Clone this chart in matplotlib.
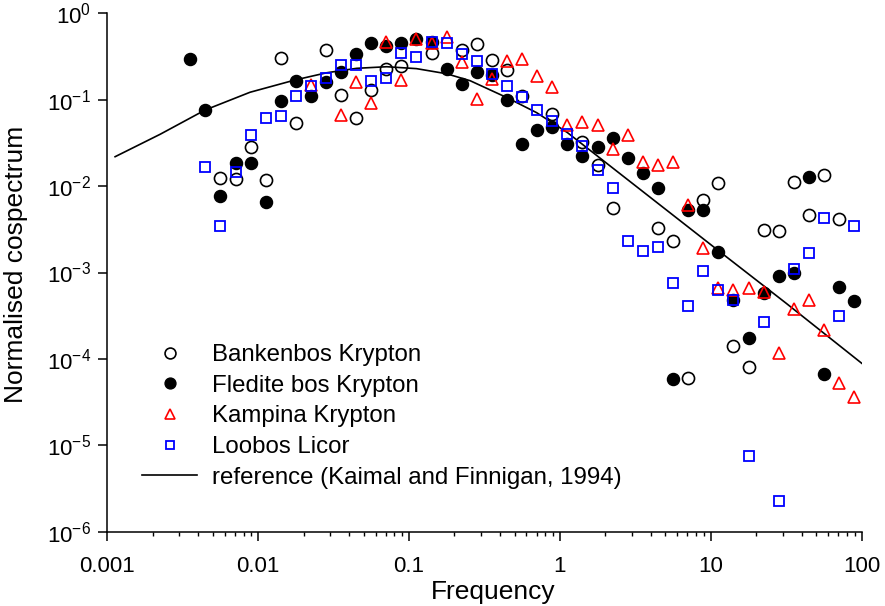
import numpy as np
import matplotlib.pyplot as plt
from matplotlib.ticker import LogLocator, NullLocator, FixedLocator, FuncFormatter

plt.rcParams['font.family'] = ['Liberation Sans', 'DejaVu Sans']
plt.rcParams['mathtext.fontset'] = 'custom'
plt.rcParams['mathtext.rm'] = 'Liberation Sans'
plt.rcParams['mathtext.it'] = 'Liberation Sans:italic'
plt.rcParams['mathtext.bf'] = 'Liberation Sans:bold'

nan = np.nan

# frequencies of the binned spectra (same for all sites)
freq = [0.00355, 0.00447, 0.00562, 0.00708, 0.00891, 0.0112, 0.0141, 0.0178, 0.0224, 0.0282,
        0.0355, 0.0447, 0.0562, 0.0708, 0.0891, 0.112, 0.141, 0.178, 0.224, 0.282,
        0.355, 0.447, 0.562, 0.708, 0.891, 1.12, 1.41, 1.78, 2.24, 2.82,
        3.55, 4.47, 5.62, 7.08, 8.91, 11.2, 14.1, 17.8, 22.4, 28.2,
        35.5, 44.7, 56.2, 70.8, 89.1]

bankenbos = [nan, nan, 0.0123, 0.0121, 0.0286, 0.0118, 0.306, 0.0542, nan, 0.376,
             0.113, 0.0622, 0.128, 0.228, 0.244, nan, 0.344, nan, 0.380, 0.438,
             0.288, 0.221, 0.109, nan, 0.0683, nan, 0.0320, 0.0175, 0.00553, nan,
             nan, 0.00325, 0.00232, 6.05e-5, 0.00690, 0.0108, 1.42e-4, 8.13e-5, 0.00310, 0.00302,
             0.0113, 0.00463, 0.0134, 0.00416, nan]

fledite = [0.294, 0.0760, 0.00768, 0.0185, 0.0187, 0.00655, 0.0966, 0.164, 0.109, 0.162,
           0.211, 0.341, 0.453, 0.424, 0.453, 0.500, 0.469, 0.228, 0.151, 0.211,
           0.191, 0.0993, 0.0305, 0.0446, 0.0483, 0.0309, 0.0223, 0.0282, 0.0363, 0.0210,
           0.0141, 0.00958, 5.81e-5, 0.00529, 0.00529, 0.00171, 4.81e-4, 1.73e-4, 5.83e-4, 9.10e-4,
           9.95e-4, 0.0129, 6.68e-5, 6.74e-4, 4.62e-4]

kampina = [nan, nan, nan, nan, nan, nan, nan, nan, 0.149, nan,
           0.0665, 0.160, 0.0908, 0.469, 0.170, 0.511, 0.459, 0.536, 0.273, 0.101,
           0.172, 0.284, 0.297, 0.188, 0.141, 0.0510, 0.0547, 0.0510, 0.0267, 0.0390,
           0.0192, 0.0175, 0.0188, 0.00604, 0.00191, 6.56e-4, 6.27e-4, 6.67e-4, 6.00e-4, 1.16e-4,
           3.75e-4, 4.81e-4, 2.16e-4, 5.22e-5, 3.62e-5]

loobos = [nan, 0.0168, 0.00343, 0.0144, 0.0390, 0.0609, 0.0653, 0.110, 0.144, 0.177,
          0.252, 0.255, 0.164, 0.178, 0.344, 0.315, 0.463, 0.453, 0.340, 0.278,
          0.197, 0.144, 0.107, 0.0766, 0.0567, 0.0403, 0.0292, 0.0154, 0.00944, 0.00232,
          0.00177, 0.00196, 7.50e-4, 4.09e-4, 0.00104, 6.27e-4, 4.81e-4, 7.5e-6, 2.70e-4, 2.27e-6,
          0.00109, 0.00167, 0.00424, 3.14e-4, 0.00345]

# reference curve
ref_f = [0.001127, 0.00224, 0.00445, 0.00883, 0.0175, 0.0284, 0.0450, 0.0711, 0.112,
         0.177, 0.254, 0.444, 0.701, 1.12, 11.1, 31.6, 100]
ref_v = [0.0219, 0.0398, 0.0760, 0.122, 0.169, 0.205, 0.231, 0.241, 0.229,
         0.200, 0.166, 0.106, 0.0708, 0.0417, 0.00182, 4.4e-4, 8.9e-5]

fig = plt.figure(figsize=(8.85, 6.06), dpi=100)
ax = fig.add_axes([0.1212, 0.1226, 0.8525, 0.8554])

ax.plot(ref_f, ref_v, color='black', lw=1.2, zorder=1,
        label='reference (Kaimal and Finnigan, 1994)')
ax.plot(freq, bankenbos, 'o', ms=8.7, mfc='none', mec='black', mew=1.2, ls='none',
        label='Bankenbos Krypton')
ax.plot(freq, fledite, 'o', ms=8.7, mfc='black', mec='black', ls='none',
        label='Fledite bos Krypton')
ax.plot(freq, kampina, '^', ms=8.4, mfc='none', mec='red', mew=1.2, ls='none',
        label='Kampina Krypton')
ax.plot(freq, loobos, 's', ms=7, mfc='none', mec='blue', mew=1.3, ls='none',
        label='Loobos Licor')

ax.set_xscale('log')
ax.set_yscale('log')
ax.set_xlim(0.001, 100)
ax.set_ylim(1e-6, 1)

for s in ['top', 'right']:
    ax.spines[s].set_visible(False)
for s in ['left', 'bottom']:
    ax.spines[s].set_linewidth(1.1)

ax.xaxis.set_major_locator(FixedLocator([0.001, 0.01, 0.1, 1, 10, 100]))
ax.xaxis.set_major_formatter(FuncFormatter(lambda v, p: '%g' % v))
ax.xaxis.set_minor_locator(LogLocator(base=10, subs=np.arange(2, 10)))
ax.yaxis.set_major_locator(FixedLocator([1e-6, 1e-5, 1e-4, 1e-3, 1e-2, 1e-1, 1]))
ax.yaxis.set_major_formatter(FuncFormatter(lambda v, p: r'$10^{%d}$' % round(np.log10(v))))
ax.yaxis.set_minor_locator(NullLocator())

ax.tick_params(which='major', direction='out', length=6.5, width=1.1, labelsize=16, pad=5)
ax.tick_params(axis='x', which='major', pad=11)
ax.tick_params(which='minor', direction='out', length=3.2, width=1.0)

ax.set_xlabel('Frequency', fontsize=19)
ax.set_ylabel('Normalised cospectrum', fontsize=19)
ax.xaxis.set_label_coords(0.512, -0.093)
ax.yaxis.set_label_coords(-0.105, 0.516)

h, l = ax.get_legend_handles_labels()
order = [1, 2, 3, 4, 0]
ax.legend([h[i] for i in order], [l[i] for i in order], loc='upper left',
          bbox_to_anchor=(142 / 885, 1 - 344 / 606), bbox_transform=fig.transFigure,
          frameon=False, fontsize=17.3, markerscale=0.9, handlelength=2.3,
          handletextpad=0.6, labelspacing=0.36, borderpad=0, borderaxespad=0)

fig.savefig('out.png', dpi=100)
